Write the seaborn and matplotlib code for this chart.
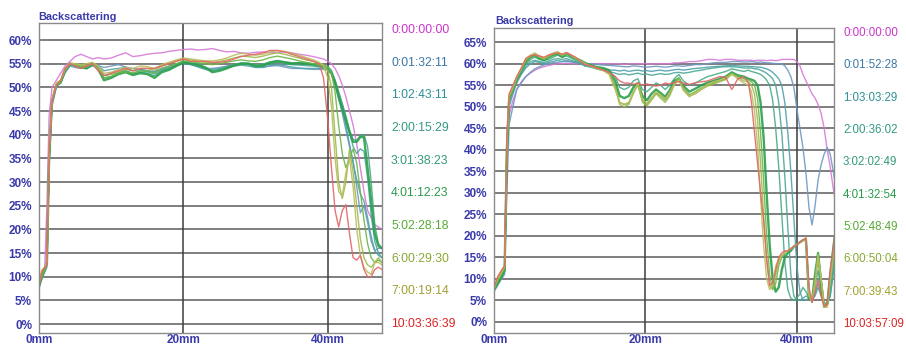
import numpy as np
import pandas as pd
import matplotlib
matplotlib.use("Agg")
import matplotlib.pyplot as plt
import seaborn as sns

# ---------------- left sample: position (mm) and backscattering (%) ----------------
left_mm = [0, 0.4, 0.8, 1.1, 1.4, 1.8, 2.4, 3.0, 3.6,
           4.3, 5.0, 5.8, 6.6, 7.4, 8.2, 9.0, 10, 11, 12, 13, 14, 15, 16, 17, 18, 19,
           20, 21, 22, 23, 24, 25, 26, 27, 28, 29, 30, 31, 32, 33, 34, 35, 36, 37, 38, 38.8, 39.4,
           40, 40.5, 41, 41.5, 42, 42.5, 43, 43.5, 44, 44.5, 45, 45.5, 46, 46.5, 47, 47.5]

left_times = ["0:00:00:00", "0:01:32:11", "1:02:43:11", "2:00:15:29", "3:01:38:23",
              "4:01:12:23", "5:02:28:18", "6:00:29:30", "7:00:19:14", "10:03:36:39"]

left_t0 = [9, 11, 12, 25, 44, 50, 51.5, 53, 54.5,
           55.5, 56.5, 57, 56.5, 56, 56.3, 56, 56.2, 56.8, 57.3, 56.5, 56.7, 57, 57.2, 57.3, 57.6,
           57.8, 58, 58.1, 57.9, 58, 58.2, 57.8, 57.5, 57.6, 57.3, 57.2, 57.4, 57.5, 57.3, 57.4, 57.5,
           57.3, 57, 56.8, 56.5, 56.2, 56,
           55.5, 55, 54, 52.5, 50.5, 48, 45, 42, 38, 33, 28, 24, 22.5, 21, 20.5, 20]
left_t1 = [7.5, 9.5, 11, 12, 33, 46, 50, 51, 53,
           54.5, 54.2, 54, 54.4, 54.8, 54.6, 54.2, 54.5, 54.8, 54.3, 54, 53.8, 53.5, 53.4, 54, 54.5,
           54.8, 55.2, 55, 54.5, 54, 54, 54.2, 54.5, 54.8, 55, 54.8, 54.4, 54.3, 54.5, 54.6, 54.3,
           54, 54, 53.9, 53.8, 53.8, 53.8,
           53.6, 52.8, 50.5, 47.5, 44.5, 41, 37.5, 34.5, 29, 23.5, 25, 21.5, 17.5, 15.5, 16, 16]
left_t2 = [8, 10, 11.5, 13, 34, 47, 50.5, 51, 53.5,
           54.8, 54.5, 54.2, 54, 54.5, 54.5, 53.5, 53.8, 54, 54.2, 53.5, 53.8, 53.5, 53.2, 53.8, 54.2,
           54.6, 55, 54.8, 54.3, 53.8, 53.5, 53.8, 54.2, 54.5, 54.7, 54.5, 54.2, 54.2, 54.6, 54.8, 54.6,
           54.3, 54.1, 54, 54, 54, 54,
           53.8, 53, 51, 48.5, 45.5, 42, 38, 34, 30.5, 27.5, 26, 22.5, 18.5, 15.5, 14.5, 14]
left_t3 = [8, 10, 11.5, 13, 35, 47, 50.5, 51, 53.5,
           54.8, 54.5, 54.6, 54.5, 54.8, 54.2, 52.5, 52.8, 53.2, 53.5, 53, 53.5, 53.3, 52.8, 53.6, 54,
           54.6, 55.2, 55, 54.6, 54, 53.8, 54, 54.4, 54.8, 55, 54.8, 54.4, 54.5, 55, 55.3, 55,
           54.8, 54.7, 54.6, 54.5, 54.3, 54.2,
           54, 53.2, 51.5, 49, 46.5, 43.5, 40.5, 37.5, 36, 37, 36.5, 31, 23, 17.5, 15, 14]
left_t4 = [8, 10, 11.5, 13, 35, 47, 50.5, 51, 53.5,
           55, 54.8, 54.5, 54.3, 55.2, 54, 52, 52.3, 53, 53.5, 52.8, 53.2, 53, 52.4, 53.5, 54,
           54.8, 55.5, 55.2, 54.9, 54.3, 53.5, 53.7, 54.3, 54.8, 55.2, 55.1, 54.8, 54.9, 55.4, 55.7, 55.4,
           55.2, 55.2, 55.1, 55, 54.8, 54.7,
           54.4, 53.6, 51.5, 49, 46.5, 44, 41, 39, 38.8, 39.8, 40, 37.5, 30, 21, 17, 16]
left_t5 = [8, 10, 11.5, 13, 35, 47, 50.5, 51, 53.5,
           55, 54.6, 54.3, 54, 55, 53.8, 51.5, 52, 52.8, 53.2, 52.6, 53, 52.8, 52, 53.2, 53.7,
           54.5, 55.3, 55, 54.7, 54.2, 53.2, 53.5, 54, 54.6, 55, 55, 54.5, 54.6, 55.2, 55.5, 55.3,
           55, 55.1, 55, 54.8, 54.6, 54.5,
           54, 53, 51, 48, 45.5, 43, 40.5, 38.5, 38.5, 39.5, 39.5, 33, 26, 19, 16.5, 16]
left_t6 = [8, 10, 11.5, 13, 35, 47, 50.5, 51, 53.5,
           55, 54.5, 54.2, 54.3, 55, 54, 52, 52.3, 53, 53.3, 53, 53.5, 53.5, 53, 54, 54.5,
           55, 55.6, 55.4, 55.2, 55, 54.8, 55, 55.3, 55.6, 55.8, 55.6, 55.5, 55.8, 56.3, 56.6, 56.3,
           56, 55.6, 55.3, 55, 54.8, 54.6,
           54.2, 53, 49, 42, 36, 33, 35, 37, 34, 28, 22, 17, 14, 13, 13.5, 13]
left_t7 = [8.5, 11, 12, 13, 36, 47, 50.5, 51.5, 53.8,
           55, 54.8, 54.5, 54.6, 55, 54, 52.5, 52.8, 53.3, 53.8, 53.5, 54, 54, 53.6, 54.5, 55,
           55.5, 56, 55.8, 55.5, 55.3, 55.2, 55.5, 55.8, 56.2, 56.6, 56.5, 56.3, 56.6, 57, 57.3, 57,
           56.6, 56.2, 55.8, 55.5, 55, 54.8,
           53.5, 50, 40, 30, 26.5, 30, 37, 32, 25, 18, 14, 12.5, 12, 13, 14, 13]
left_t8 = [9, 11.5, 12, 13, 37, 47.5, 51, 51.5, 54,
           55.2, 55, 54.8, 55, 55.3, 54.5, 53, 53.2, 53.8, 54.2, 54, 54.5, 54.4, 54, 54.8, 55.3,
           55.8, 56.2, 56, 55.8, 55.6, 55.6, 55.8, 56.2, 56.8, 57.2, 57, 56.8, 57, 57.5, 57.8, 57.6,
           57.2, 56.8, 56.3, 55.8, 55.3, 54.5,
           52, 46, 35, 28, 27, 32, 35, 29, 20, 14.5, 12, 11, 10.5, 13, 13, 12.5]
left_t9 = [8, 11, 12, 12.5, 36, 47, 50.5, 51.5, 54,
           55, 54.5, 54, 54.5, 55, 53.5, 52.5, 53, 53.5, 54, 53.5, 54, 54, 54, 54.5, 55,
           55.5, 56, 55.5, 55.5, 55.5, 55.3, 55.3, 55.5, 56, 56.5, 56.8, 57, 57.3, 57.8, 57.8, 57.5,
           57, 56.5, 56, 55.5, 55, 52,
           43, 33, 24, 20.5, 24, 25.2, 19, 14, 13.5, 14.5, 11.5, 10, 10, 11.5, 12, 11.5]

# ---------------- right sample ----------------
right_mm = [0, 0.5, 1.0, 1.4, 1.7, 2.0, 2.5,
            3.0, 3.6, 4.2, 4.8, 5.4, 6.0, 6.6, 7.2, 7.8, 8.4, 9.0, 9.6, 10.2, 10.8, 11.4, 12.0,
            12.8, 13.6, 14.4, 15.2,
            16.0, 16.6, 17.2, 17.8, 18.4, 19.0, 19.6, 20.2, 20.8, 21.4, 22.0, 22.6, 23.2, 23.8,
            24.4, 25.0, 25.8, 26.6, 27.4, 28.2, 29.0, 29.8, 30.6, 31.4, 32.2, 33.0,
            33.6, 34.0, 34.4, 34.8, 35.2, 35.6, 36.0, 36.4, 36.8, 37.2, 37.6, 38.0, 38.4, 38.8,
            39.2, 39.6, 40.0, 40.4, 40.8, 41.2, 41.6, 42.0, 42.4, 42.8, 43.2, 43.6, 44.0, 44.4,
            44.8, 45.0]

right_times = ["0:00:00:00", "0:01:52:28", "1:03:03:29", "2:00:36:02", "3:02:02:49",
               "4:01:32:54", "5:02:48:49", "6:00:50:04", "7:00:39:43", "10:03:57:09"]

right_t0 = [7.5, 9, 10.5, 12, 36, 48, 51.5,
            54, 55.8, 57, 57.8, 58.5, 59, 59.3, 59.6, 59.8, 60, 60, 60.1, 60, 60, 60, 59.8,
            60, 60, 60, 60,
            60, 60, 59.8, 60, 60, 60, 60, 60, 59.9, 60, 60, 60, 60, 60.2,
            60.2, 60.3, 60.5, 60.5, 60.7, 61, 61, 60.8, 61, 61, 60.8, 60.8,
            60.8, 60.8, 60.7, 60.8, 60.8, 60.8, 60.7, 60.8, 60.8, 60.7, 60.8, 61, 61, 61,
            61, 61, 60.5, 59.5, 57.5, 56, 54.5, 53, 52, 50.5, 48.5, 45, 40, 36,
            31, 29]
right_t1 = [7, 8.5, 10, 11, 30, 46, 50,
            54, 55.5, 57, 58, 58.8, 59.3, 59.7, 60, 60.2, 60.3, 60.5, 60.5, 60.4, 60.3, 60.2, 60,
            60, 59.8, 59.7, 59.6,
            59.5, 59.4, 59.3, 59.3, 59.5, 59.4, 59.3, 59.2, 59.3, 59.4, 59.3, 59.2, 59.3, 59.5,
            59.5, 59.4, 59.6, 59.8, 59.8, 60, 60.2, 60.3, 60.3, 60.5, 60.5, 60.4,
            60.4, 60.5, 60.4, 60.3, 60.4, 60.3, 60.2, 60.2, 60.1, 60, 60, 60, 59.5, 58.5,
            57, 54.5, 49.5, 45, 40.5, 34.5, 26.5, 22.5, 27, 33, 36.5, 39, 40.5, 39,
            35, 33]
right_t2 = [7.5, 9, 10.5, 12, 38, 50, 53,
            55.5, 57.5, 59, 60, 60.5, 60.3, 60, 60.3, 60.5, 60.8, 60.5, 60.8, 60.5, 60.3, 60, 59.5,
            59.3, 59, 58.8, 58.5,
            58.5, 58.3, 58.5, 58.2, 58.4, 58.5, 58.3, 58.4, 58.2, 58.4, 58.5, 58.3, 58.4, 58.6,
            58.7, 58.5, 58.7, 58.9, 59, 59.2, 59.3, 59.4, 59.5, 59.6, 59.5, 59.4,
            59.4, 59.3, 59.3, 59.2, 59.2, 59, 58.8, 58.5, 58, 57.3, 56.5, 55, 51, 44,
            35, 24, 13, 7, 5, 5, 5.5, 5.2, 6, 8, 6, 4.5, 4, 6,
            12, 16]
right_t3 = [7.5, 9, 10.5, 12, 39, 51, 53.5,
            55.8, 57.8, 59.5, 60.5, 60.8, 60.5, 60.3, 60.6, 61, 61.2, 61, 61.2, 60.8, 60.5, 60.2, 59.5,
            59.2, 58.8, 58.5, 58.2,
            57.8, 57.5, 57.7, 57.4, 57.6, 57.8, 57.5, 57.6, 57.3, 57.5, 57.7, 57.5, 57.6, 57.9,
            58, 57.8, 58, 58.3, 58.5, 58.8, 59, 59.2, 59.3, 59.3, 59.2, 59,
            59, 59, 58.8, 58.8, 58.5, 58.2, 57.8, 57.2, 56.5, 55, 51, 44, 34, 22,
            11, 6, 5, 5, 5.5, 6, 5.5, 5, 6.5, 9, 6.5, 4.5, 4, 6,
            11, 15]
right_t4 = [7.5, 9, 10.5, 12, 40, 52, 54,
            56, 58, 60, 61, 61.5, 61, 60.8, 61, 61.5, 62, 61.5, 61.8, 61.3, 60.8, 60.5, 59.8,
            59.3, 58.8, 58.5, 58,
            57, 54.5, 54, 54.5, 56, 56.5, 54, 53.5, 54.5, 55.5, 55, 54, 55, 56.5,
            57.5, 56, 55, 55.5, 56.3, 57, 57.4, 57.8, 58.2, 58.8, 58.5, 58.2,
            58.5, 58.2, 58, 57.8, 57.5, 57, 56.2, 55, 51.5, 45, 36, 25, 14, 7.5,
            5.5, 5, 5.5, 6.5, 8, 7, 5.5, 5, 8, 12, 7, 4, 4, 7,
            13, 18]
right_t5 = [7.5, 9, 10.5, 12, 40, 52, 54,
            56.5, 58.5, 60.5, 61.5, 62, 61.2, 60.8, 61.5, 62, 62.3, 61.6, 62.3, 61.7, 61.2, 60.8, 60.2,
            59.6, 59.2, 59, 58.5,
            56, 52.5, 52, 52.5, 54.5, 55.5, 52.5, 51.5, 53, 54, 53.2, 52.3, 53.8, 56,
            56.5, 54.8, 53.5, 54.2, 55, 55.6, 56, 56.5, 57, 58, 57.3, 57,
            56.5, 56.3, 56, 55, 51, 43, 30, 18, 10, 7, 8, 12, 15, 16,
            16.5, 17.5, 18, 18.5, 19, 19, 5.5, 5, 11, 16, 9, 3.5, 4, 11,
            17, 20]
right_t6 = [7.5, 9.5, 11, 12.5, 40, 52, 54,
            56.6, 58.6, 60.8, 61.6, 62.2, 61.4, 61, 61.6, 62.2, 62.5, 61.8, 62.5, 61.8, 61.2, 60.6, 60,
            59.4, 59, 58.6, 58,
            55, 51, 50.5, 50.8, 53.5, 55, 51.5, 50.5, 52, 53.2, 52.5, 51.5, 53, 55.5,
            56.8, 54.5, 52.8, 53.5, 54.4, 55, 55.5, 56, 56.5, 57.8, 57, 56.5,
            56.2, 55.8, 55, 52, 44, 33, 20, 11, 7.5, 9, 13, 15, 16, 16.5,
            17, 17.5, 18, 18.5, 19, 19.5, 6, 4.5, 10, 16, 10, 3.5, 3.5, 10,
            16, 19.5]
right_t7 = [7.5, 10, 11.5, 12.5, 41, 52.5, 54.5,
            56.8, 58.8, 61, 61.8, 62.3, 61.6, 61.2, 61.8, 62.3, 62.5, 62, 62.4, 62, 61.3, 60.8, 60,
            59.5, 59, 58.5, 57.8,
            54.5, 50.5, 50, 50.5, 53, 55.3, 51, 50.2, 51.5, 53, 52, 51, 52.5, 55,
            56.5, 54, 52.5, 53, 54, 54.8, 55.3, 55.8, 56.3, 57.5, 56.8, 56,
            55.8, 55, 53, 47, 37, 25, 14, 8.5, 7.5, 11, 14, 15.5, 16, 16.5,
            17, 17.5, 18, 18.5, 19, 19, 6.5, 5, 9, 15, 10, 4, 3.5, 9,
            15, 19]
right_t8 = [8, 10.5, 12, 13, 42, 52.5, 54.5,
            56.8, 58.8, 61.2, 62, 62.5, 61.8, 61.3, 62, 62.5, 62.8, 62.2, 62.6, 62, 61.3, 60.6, 60,
            59.4, 58.8, 58.4, 57.5,
            54, 51, 50.6, 51, 53.3, 55.6, 51.8, 50.8, 52, 53.5, 52.8, 51.8, 53.3, 55.3,
            56.2, 53.8, 52.3, 53.2, 54.2, 55.2, 55.8, 56.2, 56.8, 57.6, 56.5, 55.5,
            55, 53.5, 49, 41, 29, 18, 10, 7.5, 9, 13, 14.5, 15.5, 16, 16.5,
            17, 17.5, 18, 18.5, 19, 19, 6, 4.5, 9, 15.5, 9.5, 3.5, 3.5, 10,
            16, 19.5]
right_t9 = [8, 10.5, 12, 13, 43, 53, 55,
            57, 59, 61.2, 61.8, 62, 61.8, 61.5, 62, 62.3, 62.5, 62.2, 62.6, 62, 61.5, 60.5, 59.8,
            59.5, 59, 58.5, 58,
            57, 56, 55.5, 55.5, 55.2, 55.5, 55, 55.3, 55, 54.8, 55, 55.5, 55.3, 55.6,
            55.8, 55.5, 55.2, 55.6, 55.8, 56, 56.5, 57, 56.8, 54, 56.5, 57,
            55.5, 51, 44, 37, 30, 23.7, 15, 8.5, 9, 12, 15, 16, 16.5, 16.5,
            17, 17.5, 18, 18.5, 19, 19.5, 8, 4.5, 7, 9.8, 6, 3.6, 4, 12,
            17, 20]

# line colours and label colours, one per measuring time (oldest first)
line_colors = ["#d77ad7", "#6f98c2", "#4ea2aa", "#4aa898", "#48aa86",
               "#2c9f4c", "#6cb548", "#9cba4e", "#bcbc5c", "#e26666"]
text_colors = ["#cc33cc", "#3b78a6", "#2e8f95", "#339a82", "#349a78",
               "#2a9a4c", "#55aa33", "#88a833", "#a0a030", "#dd2222"]

axis_blue = "#3a3aaa"


def long_frame(mm, times, series):
    frames = []
    for t, vals in zip(times, series):
        assert len(vals) == len(mm), (t, len(vals), len(mm))
        frames.append(pd.DataFrame({"mm": mm, "pct": vals, "time": t}))
    return pd.concat(frames, ignore_index=True)


left_df = long_frame(left_mm, left_times,
                     [left_t0, left_t1, left_t2, left_t3, left_t4,
                      left_t5, left_t6, left_t7, left_t8, left_t9])
right_df = long_frame(right_mm, right_times,
                      [right_t0, right_t1, right_t2, right_t3, right_t4,
                       right_t5, right_t6, right_t7, right_t8, right_t9])

sns.set_theme(style="white")
plt.rcParams["font.family"] = ["Liberation Sans", "DejaVu Sans"]

W, H = 906, 347
fig = plt.figure(figsize=(W / 100, H / 100), dpi=100)


def px_axes(x0, y0, x1, y1):
    return fig.add_axes([x0 / W, 1 - y1 / H, (x1 - x0) / W, (y1 - y0) / H])


panels = [
    dict(ax=px_axes(39, 23, 382, 333), df=left_df, times=left_times,
         xlim=(0, 47.5), ylim=(-1.9, 63.6), ymax=60,
         label_x=391, label_y0=30, label_y1=324, label_size=8.7, title_xy=(38, 17)),
    dict(ax=px_axes(494, 28, 834, 333), df=right_df, times=right_times,
         xlim=(0, 44.9), ylim=(-2.6, 68.3), ymax=65,
         label_x=843, label_y0=33, label_y1=324, label_size=8.3, title_xy=(495, 21)),
]

for p in panels:
    ax = p["ax"]
    ax.set_facecolor("white")
    # horizontal grid every 5 %, vertical lines at 20 and 40 mm
    for v in range(0, p["ymax"] + 1, 5):
        ax.axhline(v, color="#747474", lw=1.3, zorder=0)
    for v in (20, 40):
        ax.axvline(v, color="#3c3c3c", lw=1.1, zorder=0)

    palette = dict(zip(p["times"], line_colors))
    widths = {t: (1.7 if i == 5 else 1.0) for i, t in enumerate(p["times"])}
    for t in p["times"]:
        sub = p["df"][p["df"]["time"] == t]
        sns.lineplot(data=sub, x="mm", y="pct", color=palette[t], lw=widths[t],
                     alpha=0.9, sort=False, estimator=None, legend=False, ax=ax, zorder=2)

    ax.set_xlim(*p["xlim"])
    ax.set_ylim(*p["ylim"])
    ax.set_xticks([0, 20, 40])
    ax.set_xticklabels(["0mm", "20mm", "40mm"])
    ax.set_yticks(list(range(0, p["ymax"] + 1, 5)))
    ax.set_yticklabels([f"{v}%" for v in range(0, p["ymax"] + 1, 5)])
    ax.tick_params(axis="both", length=0, labelsize=8.5, labelcolor=axis_blue)
    ax.tick_params(axis="y", pad=5)
    ax.tick_params(axis="x", pad=1)
    for lab in ax.get_xticklabels() + ax.get_yticklabels():
        lab.set_fontweight("bold")
    ax.set_xlabel("")
    ax.set_ylabel("")
    for s in ax.spines.values():
        s.set_color("#8a8a8a")
        s.set_linewidth(1.0)

    tx, ty = p["title_xy"]
    fig.text(tx / W, 1 - ty / H, "Backscattering", color=axis_blue, fontsize=7.8,
             fontweight="bold", ha="left", va="center")

    step = (p["label_y1"] - p["label_y0"]) / (len(p["times"]) - 1)
    for i, t in enumerate(p["times"]):
        fig.text(p["label_x"] / W, 1 - (p["label_y0"] + i * step) / H, t,
                 color=text_colors[i], fontsize=p["label_size"], ha="left", va="center")

fig.savefig("out.png", dpi=100, facecolor="white")
